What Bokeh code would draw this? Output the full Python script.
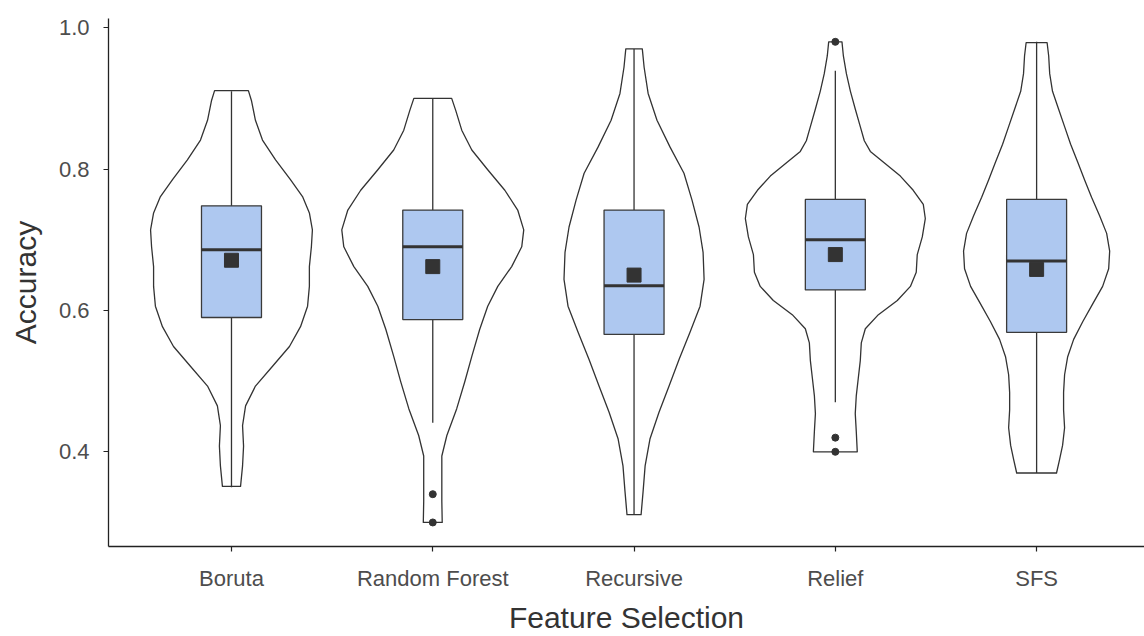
from bokeh.plotting import figure
from bokeh.models import Range1d, FixedTicker
from bokeh.embed import file_html
from bokeh.resources import INLINE

# ---- data ----
categories = ["Boruta", "Random Forest", "Recursive", "Relief", "SFS"]

lower_whisker = [0.350, 0.441, 0.311, 0.470, 0.370]
q1 = [0.590, 0.587, 0.566, 0.629, 0.569]
median = [0.686, 0.690, 0.635, 0.700, 0.670]
q3 = [0.748, 0.742, 0.742, 0.757, 0.757]
upper_whisker = [0.910, 0.900, 0.970, 0.939, 0.980]
means = [0.671, 0.662, 0.650, 0.679, 0.658]

outlier_group = [2, 2, 4, 4, 4]
outlier_value = [0.340, 0.300, 0.980, 0.420, 0.400]

# violin outlines: accuracy level and half-width (x units)
boruta_y = [0.911, 0.897, 0.869, 0.841, 0.813, 0.785, 0.761, 0.738, 0.714, 0.690, 0.662,
            0.634, 0.606, 0.577, 0.549, 0.521, 0.493, 0.465, 0.437, 0.408, 0.380, 0.351]
boruta_w = [0.084, 0.099, 0.119, 0.154, 0.219, 0.293, 0.353, 0.387, 0.402, 0.397, 0.387,
            0.387, 0.378, 0.343, 0.288, 0.204, 0.119, 0.070, 0.055, 0.060, 0.055, 0.045]

rf_y = [0.900, 0.883, 0.855, 0.827, 0.799, 0.770, 0.742, 0.714, 0.690, 0.662, 0.634,
        0.606, 0.573, 0.535, 0.499, 0.461, 0.423, 0.394, 0.358, 0.330, 0.300]
rf_w = [0.094, 0.114, 0.144, 0.194, 0.273, 0.358, 0.422, 0.452, 0.442, 0.392, 0.323,
        0.273, 0.233, 0.194, 0.159, 0.119, 0.070, 0.045, 0.045, 0.045, 0.047]

rec_y = [0.970, 0.944, 0.907, 0.869, 0.831, 0.794, 0.756, 0.718, 0.682, 0.644, 0.606,
         0.569, 0.531, 0.493, 0.456, 0.418, 0.380, 0.344, 0.311]
rec_w = [0.041, 0.050, 0.070, 0.114, 0.179, 0.248, 0.288, 0.323, 0.343, 0.348, 0.328,
         0.278, 0.224, 0.174, 0.124, 0.079, 0.055, 0.045, 0.035]

relief_y = [0.980, 0.960, 0.935, 0.910, 0.885, 0.860, 0.840, 0.825, 0.810, 0.790, 0.770,
            0.750, 0.730, 0.704, 0.679, 0.654, 0.634, 0.614, 0.594, 0.574, 0.554, 0.529,
            0.504, 0.479, 0.454, 0.429, 0.400]
relief_w = [0.033, 0.040, 0.055, 0.075, 0.099, 0.124, 0.144, 0.174, 0.238, 0.323, 0.387,
            0.437, 0.447, 0.432, 0.407, 0.402, 0.373, 0.308, 0.214, 0.149, 0.129, 0.124,
            0.114, 0.104, 0.099, 0.104, 0.109]

sfs_y = [0.979, 0.960, 0.935, 0.910, 0.885, 0.860, 0.835, 0.810, 0.785, 0.760, 0.734,
         0.709, 0.684, 0.659, 0.634, 0.609, 0.584, 0.559, 0.534, 0.509, 0.484, 0.459,
         0.434, 0.409, 0.389, 0.370]
sfs_w = [0.052, 0.060, 0.065, 0.079, 0.109, 0.139, 0.169, 0.204, 0.238, 0.273, 0.313,
         0.348, 0.363, 0.358, 0.328, 0.278, 0.229, 0.184, 0.154, 0.139, 0.134, 0.134,
         0.139, 0.129, 0.114, 0.099]

violin_y = [boruta_y, rf_y, rec_y, relief_y, sfs_y]
violin_w = [boruta_w, rf_w, rec_w, relief_w, sfs_w]

y_ticks = [0.4, 0.6, 0.8, 1.0]
y_tick_labels = ["0.4", "0.6", "0.8", "1.0"]

# ---- figure ----
positions = list(range(1, len(categories) + 1))
p = figure(width=1144, height=636, output_backend="svg", toolbar_location=None,
           x_range=Range1d(0.389, 5.536), y_range=Range1d(0.266, 1.013),
           min_border_left=108, min_border_right=0, min_border_top=18,
           min_border_bottom=89)
p.outline_line_color = None
p.xgrid.grid_line_color = None
p.ygrid.grid_line_color = None
p.background_fill_color = "white"

# violins
xs, ys = [], []
for pos, vy, vw in zip(positions, violin_y, violin_w):
    left = [pos - w for w in vw]
    right = [pos + w for w in vw]
    xs.append(left + right[::-1])
    ys.append(list(vy) + list(vy)[::-1])
p.patches(xs, ys, fill_color="white", line_color="#333333", line_width=1.3,
          line_join="round")

# whiskers
p.segment(x0=positions, y0=lower_whisker, x1=positions, y1=upper_whisker,
          line_color="#333333", line_width=1.3)

# boxes
bw = 0.149
p.quad(left=[x - bw for x in positions], right=[x + bw for x in positions],
       bottom=q1, top=q3, fill_color="#aec8f0", line_color="#3a3a3a", line_width=1.3)

# medians
p.segment(x0=[x - bw for x in positions], y0=median, x1=[x + bw for x in positions],
          y1=median, line_color="#333333", line_width=3)

# means
p.scatter(positions, means, marker="square", size=14, fill_color="#333333",
          line_color="#333333")

# outliers
p.scatter(outlier_group, outlier_value, marker="circle", size=7,
          fill_color="#333333", line_color="#333333")

# axes
p.xaxis.ticker = FixedTicker(ticks=positions)
p.xaxis.major_label_overrides = {pos: c for pos, c in zip(positions, categories)}
p.yaxis.ticker = FixedTicker(ticks=y_ticks)
p.yaxis.major_label_overrides = {t: s for t, s in zip(y_ticks, y_tick_labels)}
p.xaxis.axis_label = "Feature Selection"
p.yaxis.axis_label = "Accuracy"
for ax in (p.xaxis, p.yaxis):
    ax.axis_line_color = "#222222"
    ax.axis_line_width = 1.3
    ax.major_tick_line_color = "#222222"
    ax.major_tick_line_width = 1.2
    ax.major_tick_out = 5
    ax.major_tick_in = 0
    ax.minor_tick_line_color = None
    ax.major_label_text_font = "Liberation Sans"
    ax.major_label_text_font_size = "22px"
    ax.major_label_text_color = "#4d4d4d"
    ax.axis_label_text_font = "Liberation Sans"
    ax.axis_label_text_font_size = "30px"
    ax.axis_label_text_font_style = "normal"
    ax.axis_label_text_color = "#333333"
p.xaxis.major_label_standoff = 14
p.xaxis.axis_label_standoff = 7
p.yaxis.major_label_standoff = 14
p.yaxis.axis_label_standoff = 14

open("out.html", "w").write(file_html(p, INLINE))
